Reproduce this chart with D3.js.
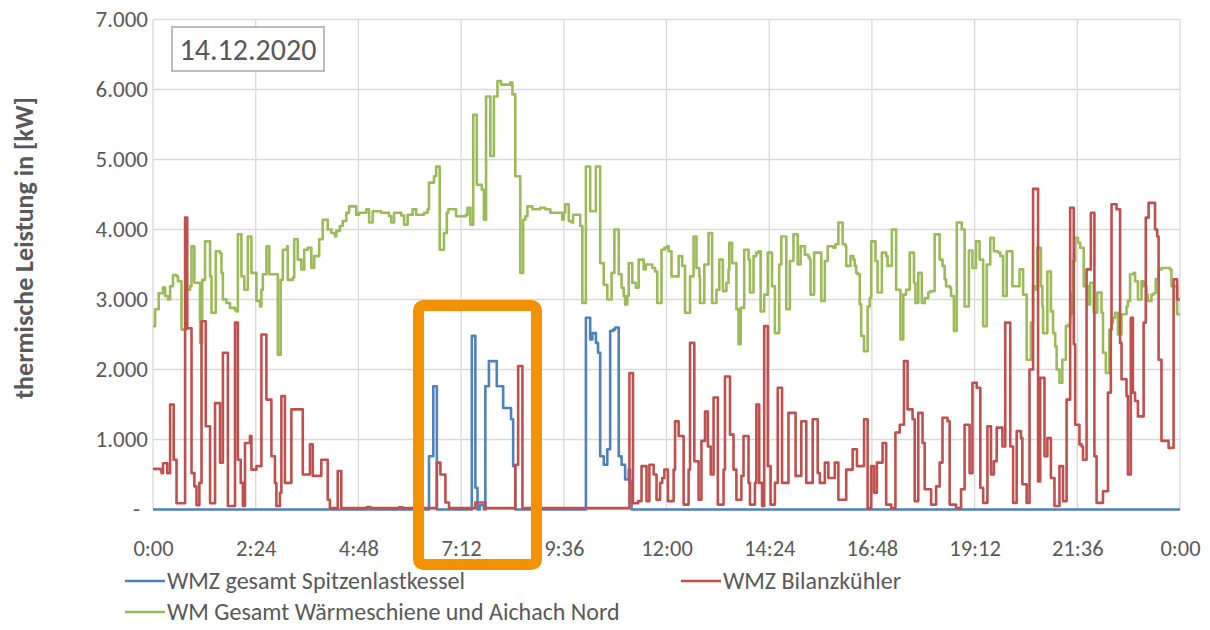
<!DOCTYPE html>
<html><head><meta charset="utf-8">
<script src="https://cdn.jsdelivr.net/npm/d3@7"></script>
<style>
html,body{margin:0;padding:0;background:#fff;}
svg{display:block;}
text{font-family:Carlito,Calibri,Lato,"Liberation Sans",sans-serif;fill:#595959;}
</style></head>
<body>
<svg id="c" width="1210" height="630"></svg>
<script>
// ---- data (time in minutes since 0:00, values in kW) ----
const xTickLabels = ["0:00","2:24","4:48","7:12","9:36","12:00","14:24","16:48","19:12","21:36","0:00"];
const yTickValues = [0,1000,2000,3000,4000,5000,6000,7000];
const yTickLabels = ["-","1.000","2.000","3.000","4.000","5.000","6.000","7.000"];
const seriesNames = ["WMZ gesamt Spitzenlastkessel","WMZ Bilanzkühler","WM Gesamt Wärmeschiene und Aichach Nord"];
const dateLabel = "14.12.2020";

const blueT = [0,387,393,398,447,452,455,458,464,466,471,482,491,502,505,508,607,613,616,621,624,627,632,637,641,645,648,653,657,662,667,669,671];
const blueV = [0,760,1760,0,2480,310,0,60,0,1760,2120,1760,1450,1290,620,0,2740,2430,2520,2380,2240,760,640,860,2550,2570,2600,760,640,430,570,400,0];

const redT = [0,10,12,14,20,24,29,33,45,48,54,58,61,65,68,74,80,87,94,98,105,115,119,123,126,129,136,138,145,152,159,166,171,173,178,180,185,194,210,220,224,236,245,248,259,264,300,305,345,350,398,403,410,415,452,466,508,512,518,
 668,673,680,685,692,696,702,706,711,714,717,722,730,732,737,744,751,753,759,765,769,774,778,782,786,792,800,802,809,814,818,825,828,835,837,844,846,850,854,857,862,866,872,876,882,891,901,909,916,925,932,935,942,947,956,961,972,981,987,997,
 1002,1007,1011,1015,1023,1028,1035,1041,1047,1053,1058,1065,1068,1073,1079,1082,1091,1098,1103,1107,1114,1117,1126,1133,1138,1145,1149,1155,1160,1164,1170,1175,1179,1183,1191,1195,1202,1206,1211,1217,1219,1225,1229,1234,1241,1244,1250,1254,1259,1264,1271,1276,1281,1286,1291,1293,1299,1302,1304,1309,1315,1320,1323,1332,1339,1343,1344,1351,1356,1358,1365,1367,1371,1374,1377,1381,1389,1392,1396,1405,1408,1410,1414,1424,1431,1436];
const redV = [580,570,520,660,520,1500,710,90,4170,2590,520,330,60,380,2690,1190,90,1520,670,2240,50,2670,710,380,50,950,1050,570,620,2500,1570,760,380,50,240,1620,380,1430,500,930,480,710,140,20,550,20,35,20,30,20,670,500,100,20,100,20,640,2050,20,
 1950,90,120,620,120,640,500,140,380,450,570,120,570,1260,1050,70,570,2380,690,140,980,1400,900,500,1600,70,570,1900,1070,570,140,480,1050,380,70,380,1500,380,50,2620,620,70,380,1740,380,1380,480,1260,380,1290,520,380,670,450,670,140,570,860,620,1290,
 20,620,240,670,950,70,20,1100,1210,2120,1430,1290,120,1380,950,290,70,330,670,1310,1260,70,20,290,1210,520,1810,1740,310,95,1190,500,690,1170,900,2670,900,95,1120,1020,360,95,2000,4580,400,1880,760,1020,450,50,620,120,1570,4310,2360,1210,930,900,710,3430,4240,760,95,260,1670,2570,4360,4290,2380,1860,1620,500,2740,1670,1550,1330,2670,4170,4380,4000,3900,2140,980,880,3290,3000];

const greenT = [0,3,8,14,17,21,24,28,33,35,40,47,52,54,58,66,69,73,80,82,88,94,96,98,103,108,115,117,119,124,128,133,138,145,150,152,154,159,163,175,179,182,188,189,196,198,203,208,212,217,222,226,233,238,245,250,255,257,262,266,271,275,285,
 289,299,303,308,320,331,334,338,348,352,357,364,369,380,385,387,394,397,402,408,412,414,425,439,441,445,449,454,461,464,467,473,478,483,488,501,504,508,515,519,522,525,532,543,550,557,574,576,578,583,587,589,599,602,607,613,621,627,632,637,643,647,653,657,660,662,665,667,672,677,681,688,691,700,704,707,713,717,721,723,727,737,742,746,753,758,762,766,767,773,779,784,790,794,799,804,807,808,812,818,821,824,829,835,837,842,846,849,
 852,857,862,868,872,878,881,888,893,898,904,908,914,919,921,922,927,937,942,946,954,957,961,967,971,972,978,982,984,986,988,991,993,997,1002,1005,1007,1013,1016,1022,1028,1030,1036,1042,1048,1052,1056,1061,1067,1069,1073,1078,1082,1087,1090,1096,1103,1107,1110,1112,1117,1119,1123,1127,1134,1138,1144,1149,1154,1159,1164,1169,1174,1179,1185,1188,1192,1197,1205,1215,1220,1225,1231,1234,1238,1240,1245,1247,1248,1254,1259,1262,1265,1267,1271,1275,1280,1283,1286,1288,1290,1293,1297,1300,1305,1311,1314,1319,1324,1330,1332,1336,1341,1344,1346,1349,1353,1358,1365,1367,1370,1375,1377,1381,1386,1389,1393,1395,1400,1403,1406,1410,1414,1426,1428,1436];
const greenV = [2620,2860,3090,3170,3050,3000,3190,3350,3330,3260,2570,3140,3190,3760,3240,2380,3280,3830,3330,2810,3690,3660,3380,3000,2950,2880,2850,2830,3930,3330,3140,3900,3380,2980,2900,3140,3360,3760,3360,2210,3280,3710,3760,3280,3310,3860,3570,3430,3710,3740,3450,3620,3860,4140,4000,3950,3900,3980,4050,4120,4240,4330,4210,
 4240,4290,4100,4260,4240,4190,4100,4240,4200,4070,4210,4290,4210,4240,4290,4670,4760,4900,3710,3950,4240,4290,4190,4210,4310,4070,5640,4640,4570,4140,5900,5050,5900,6120,6070,6100,5930,4760,3380,4140,4190,4330,4290,4310,4290,4240,4140,4240,4360,4120,4100,4210,4050,2950,4900,4260,4900,3520,3210,3000,3380,4000,3360,3170,3050,2930,3050,3520,3240,3170,3570,3430,3500,3450,3400,2950,3710,3740,3760,3690,3330,3620,3480,2810,3330,3900,3450,3330,2950,3500,3950,2950,3140,3570,3120,3240,3430,3810,3520,2860,2360,2880,3710,3570,3100,3620,3670,3690,
 2830,3070,3670,3190,2520,3500,3900,2860,3550,3930,3500,3760,3640,3600,3570,3070,3670,2980,3550,3760,3740,3790,4100,3790,3760,3480,3620,3570,3480,3380,3360,2930,2480,2260,2900,3020,3830,3550,3100,3670,3620,3480,4000,3140,2430,3070,3140,3670,3240,2950,3380,2950,3020,3100,3120,3930,3570,3480,3290,3190,3170,3050,2550,4100,4000,2900,3700,3450,3830,3570,2620,3500,3880,3690,3670,3620,3050,3690,3190,3430,3070,2140,2670,3190,3140,3740,3190,2900,2520,3400,2830,2520,2330,2000,1810,2140,2620,2640,2790,3100,3550,3880,3810,3740,3190,2930,3240,2810,3100,2810,2240,1950,2570,2670,2740,2810,2500,2790,2900,2980,3360,3380,3260,3000,3260,3190,3070,2980,3070,3090,3290,3430,3450,3430,3190,2790];

// ---- chart ----
const svg = d3.select("#c");
const FONT = "Carlito,Calibri,Lato,sans-serif";
const x = d3.scaleLinear().domain([0,1440]).range([153,1180]);
const y = d3.scaleLinear().domain([0,7000]).range([509.5,19.5]);

const g = svg.append("g");
g.selectAll("line.h").data(yTickValues).join("line")
  .attr("x1",x(0)).attr("x2",x(1440)).attr("y1",d=>y(d)).attr("y2",d=>y(d))
  .attr("stroke","#d9d9d9").attr("stroke-width",1.3);
const xTicks = d3.range(0,1441,144);
g.selectAll("line.v").data(xTicks).join("line")
  .attr("x1",d=>x(d)).attr("x2",d=>x(d)).attr("y1",y(7000)).attr("y2",y(0))
  .attr("stroke","#d9d9d9").attr("stroke-width",1.3);

// axes labels
const yAxis = d3.axisLeft(y).tickValues(yTickValues).tickFormat((d,i)=>yTickLabels[i]).tickSize(0).tickPadding(0);
const ya = svg.append("g").attr("transform","translate(148,0)").call(yAxis);
ya.select(".domain").remove();
ya.selectAll("text").attr("font-size",23).attr("fill","#595959").style("font-family",FONT);
ya.selectAll("text").filter(d=>d===0).attr("dx",-8);

const xAxis = d3.axisBottom(x).tickValues(xTicks).tickFormat((d,i)=>xTickLabels[i]).tickSize(0).tickPadding(0);
const xa = svg.append("g").attr("transform","translate(0,548)").call(xAxis);
xa.select(".domain").remove();
xa.selectAll("text").attr("font-size",22.5).attr("fill","#595959").attr("dy","0.35em").style("font-family",FONT);

svg.append("text").attr("transform","translate(24,248) rotate(-90)")
  .attr("text-anchor","middle").attr("dy","0.35em").attr("font-size",26).attr("font-weight","bold")
  .text("thermische Leistung in [kW]");

// series
function mk(T,V){ const a=T.map((t,i)=>({t,v:V[i]})); a.push({t:1440,v:V[V.length-1]}); return a; }
const line = d3.line().x(d=>x(d.t)).y(d=>y(d.v)).curve(d3.curveStepAfter);
const colors = ["#4f81bd","#c0504d","#9bbb59"];
svg.append("path").datum(mk(greenT,greenV)).attr("d",line).attr("fill","none").attr("stroke",colors[2]).attr("stroke-width",2.6).attr("stroke-linejoin","round");
svg.append("path").datum(mk(blueT,blueV)).attr("d",line).attr("fill","none").attr("stroke",colors[0]).attr("stroke-width",2.6).attr("stroke-linejoin","round");
svg.append("path").datum(mk(redT,redV)).attr("d",line).attr("fill","none").attr("stroke",colors[1]).attr("stroke-width",2.6).attr("stroke-linejoin","round");

// date box
svg.append("rect").attr("x",172).attr("y",27).attr("width",152).attr("height",44)
  .attr("fill","#fff").attr("stroke","#a6a6a6").attr("stroke-width",1.5);
svg.append("text").attr("x",248).attr("y",49).attr("dy","0.36em").attr("text-anchor","middle")
  .attr("font-size",30).text(dateLabel);

// highlight box
svg.append("rect").attr("x",418.5).attr("y",305.5).attr("width",118).attr("height",259).attr("rx",5)
  .attr("fill","none").attr("stroke","#f39200").attr("stroke-width",11);

// legend
const leg = [{n:seriesNames[0],c:colors[0],x:125,y:581},{n:seriesNames[1],c:colors[1],x:681,y:581},{n:seriesNames[2],c:colors[2],x:125,y:612}];
const lg = svg.selectAll("g.leg").data(leg).join("g").attr("transform",d=>`translate(${d.x},${d.y})`);
lg.append("line").attr("x1",0).attr("x2",40).attr("stroke",d=>d.c).attr("stroke-width",2.6);
lg.append("text").attr("x",42).attr("dy","0.35em").attr("font-size",24).text(d=>d.n);
</script>
</body></html>
